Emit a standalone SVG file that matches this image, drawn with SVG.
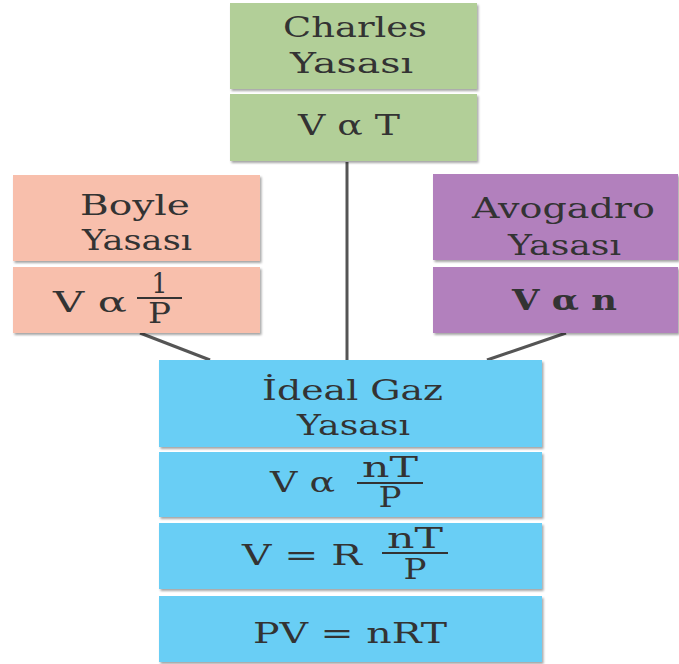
<svg xmlns="http://www.w3.org/2000/svg" width="679" height="664" viewBox="0 0 679 664">
  <style>
    .t { font-family: "DejaVu Serif", "Liberation Serif", serif; font-size: 27px; fill: #333333; }
    .b { font-weight: bold; }
    .green { fill: #b2cf98; }
    .salmon { fill: #f8bfac; }
    .purple { fill: #b280bd; }
    .blue { fill: #69cef5; }
    .bar { stroke: #333333; stroke-width: 2.2; }
    .link { stroke: #555555; stroke-width: 3; fill: none; }
  </style>
  <defs>
    <filter id="shadow" x="-5%" y="-5%" width="115%" height="125%">
      <feDropShadow dx="1.5" dy="2" stdDeviation="1.2" flood-color="#000" flood-opacity="0.35"/>
    </filter>
  </defs>
  <rect width="679" height="664" fill="#ffffff"/>

  <!-- connectors -->
  <g id="connectors">
    <line class="link" x1="347" y1="162" x2="347" y2="361"/>
    <line class="link" x1="140" y1="333" x2="210" y2="360"/>
    <line class="link" x1="566" y1="333" x2="487" y2="360"/>
  </g>

  <!-- Charles -->
  <g id="charles" filter="url(#shadow)">
    <rect class="green" x="230" y="3" width="247" height="86"/>
    <rect class="green" x="230" y="94" width="247" height="67"/>
  </g>
  <g id="charles-text">
    <text class="t" x="283" y="37" textLength="144" lengthAdjust="spacingAndGlyphs">Charles</text>
    <text class="t" x="290" y="73" textLength="123" lengthAdjust="spacingAndGlyphs">Yasası</text>
    <text class="t" x="298" y="135" textLength="102" lengthAdjust="spacingAndGlyphs">V α T</text>
  </g>

  <!-- Boyle -->
  <g id="boyle" filter="url(#shadow)">
    <rect class="salmon" x="13" y="175" width="247" height="86"/>
    <rect class="salmon" x="13" y="267" width="247" height="66"/>
  </g>
  <g id="boyle-text">
    <text class="t" x="80" y="215" textLength="110" lengthAdjust="spacingAndGlyphs">Boyle</text>
    <text class="t" x="82" y="250" textLength="110" lengthAdjust="spacingAndGlyphs">Yasası</text>
    <text class="t" x="53" y="312" textLength="74" lengthAdjust="spacingAndGlyphs">V α</text>
    <text class="t" x="159.5" y="293" text-anchor="middle" font-size="30" textLength="16" lengthAdjust="spacingAndGlyphs">1</text>
    <line class="bar" x1="137" y1="298" x2="182" y2="298"/>
    <text class="t" x="159.5" y="323" text-anchor="middle" font-size="28" textLength="23" lengthAdjust="spacingAndGlyphs">P</text>
  </g>

  <!-- Avogadro -->
  <g id="avogadro" filter="url(#shadow)">
    <rect class="purple" x="433" y="174" width="245" height="86"/>
    <rect class="purple" x="433" y="267" width="245" height="66"/>
  </g>
  <g id="avogadro-text">
    <text class="t" x="472" y="218" textLength="183" lengthAdjust="spacingAndGlyphs">Avogadro</text>
    <text class="t" x="508" y="255" textLength="113" lengthAdjust="spacingAndGlyphs">Yasası</text>
    <text class="t b" x="512" y="310" textLength="105" lengthAdjust="spacingAndGlyphs">V α n</text>
  </g>

  <!-- Ideal gas -->
  <g id="ideal" filter="url(#shadow)">
    <rect class="blue" x="159" y="360" width="383" height="87"/>
    <rect class="blue" x="159" y="452" width="383" height="65"/>
    <rect class="blue" x="159" y="523" width="383" height="66"/>
    <rect class="blue" x="159" y="596" width="383" height="66"/>
  </g>
  <g id="ideal-text">
    <text class="t" x="262" y="400" textLength="181" lengthAdjust="spacingAndGlyphs">İdeal Gaz</text>
    <text class="t" x="297" y="435" textLength="113" lengthAdjust="spacingAndGlyphs">Yasası</text>

    <text class="t" x="270" y="492" textLength="65" lengthAdjust="spacingAndGlyphs">V α</text>
    <text class="t" x="390" y="477" text-anchor="middle" textLength="56" lengthAdjust="spacingAndGlyphs">nT</text>
    <line class="bar" x1="357" y1="483" x2="423" y2="483"/>
    <text class="t" x="390" y="507" text-anchor="middle" textLength="23" lengthAdjust="spacingAndGlyphs">P</text>

    <text class="t" x="242" y="565" textLength="120" lengthAdjust="spacingAndGlyphs">V = R</text>
    <text class="t" x="415" y="548" text-anchor="middle" textLength="56" lengthAdjust="spacingAndGlyphs">nT</text>
    <line class="bar" x1="382" y1="553" x2="448" y2="553"/>
    <text class="t" x="415" y="579" text-anchor="middle" textLength="23" lengthAdjust="spacingAndGlyphs">P</text>

    <text class="t" x="253" y="643" textLength="194" lengthAdjust="spacingAndGlyphs">PV = nRT</text>
  </g>
</svg>
